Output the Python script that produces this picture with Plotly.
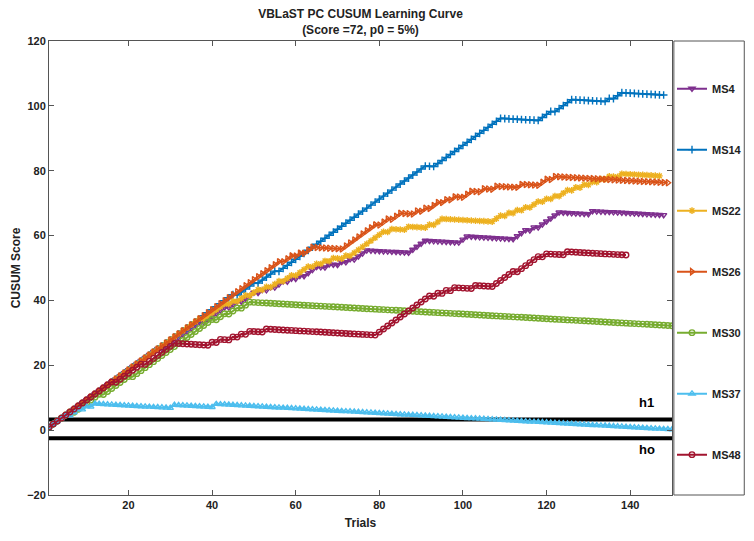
import numpy as np
import plotly.graph_objects as go

# CUSUM reference value (score added on a failure is 1 - s, removed on a success is s)
s = 0.072
h1 = 3.3
h0 = -2.5

names = ['MS4', 'MS14', 'MS22', 'MS26', 'MS30', 'MS37', 'MS48']
colors = ['#7E2F8E', '#0072BD', '#EDB120', '#D95319', '#77AC30', '#4DBEEE', '#A2142F']
symbols = ['triangle-down-open', 'cross-thin-open', 'asterisk-open', 'triangle-right-open',
           'circle-open', 'triangle-up-open', 'circle-open']

# trial outcomes, 1 = score below 72 (line steps up), groups of 10 trials
ms4 = ('1111111111 1111111111 1111111011 1111111011 1110110111 0101011010 1011100100 '
       '1010111000 0000000111 1000000001 1000000000 0011101011 1110000000 1000000000 00000000')
ms14 = ('1111111111 1111111111 1111111111 1111111111 1111101111 0111101111 1111111111 '
        '1111111111 1111111111 1001111111 1111111110 0000000011 1011110000 0000101100 00000000')
ms22 = ('1111111111 1111111111 1111111111 1111111011 1110101101 1010110110 1110101010 '
        '0101111111 1010001000 0101100000 0000000110 1010101101 0101101010 1010100100 0000000')
ms26 = ('1111111111 1111111111 1111111111 1111111111 1111111111 1111110110 1011000000 '
        '0111111110 1101100010 1011010100 1100100100 0001000011 0100000000 0000000000 000000000')
ms30 = ('1111110111 1110111111 0111111111 1111111111 0110110110 ' + '0000000000 ' * 10)
ms37 = ('1111101101 0100000000 0000000000 1000000000 1000000000 ' + '0000000000 ' * 10)
ms48 = ('1111111111 1111110111 1110111111 1000000001 0100101010 0010000000 0000000000 '
        '0000000001 1111111111 1101010100 0010000111 1101111101 0000100000 000000000')

outcomes = [ms4, ms14, ms22, ms26, ms30, ms37, ms48]


def cusum(seq):
    o = np.array([c == '1' for c in seq.replace(' ', '')])
    return np.cumsum(np.where(o, 1 - s, -s))


fig = go.Figure()

# decision limits
for h in [h1, h0]:
    fig.add_trace(go.Scatter(x=[1, 150], y=[h, h], mode='lines', showlegend=False,
                             line=dict(color='black', width=4), hoverinfo='skip'))

for name, col, sym, seq in zip(names, colors, symbols, outcomes):
    y = cusum(seq)
    x = np.arange(1, len(y) + 1)
    fig.add_trace(go.Scatter(x=x, y=y, name=name, legendgroup=name, mode='lines+markers',
                             line=dict(color=col, width=2),
                             marker=dict(symbol=sym, size=5.5, color=col, line=dict(color=col, width=1.4))))

fig.add_annotation(x=144, y=8.6, text='h1', showarrow=False, font=dict(size=13, weight='bold', color='black'))
fig.add_annotation(x=144, y=-5.9, text='ho', showarrow=False, font=dict(size=13, weight='bold', color='black'))

# legend box
fig.add_shape(type='rect', xref='paper', yref='paper', x0=1.003, x1=1.116, y0=0, y1=1,
              line=dict(color='#555', width=1))

axis_style = dict(showline=True, mirror='ticks', linecolor='#555', linewidth=1, ticks='inside',
                  ticklen=5, tickcolor='#555', showgrid=False, zeroline=False, automargin=False,
                  tickfont=dict(family='Liberation Sans', size=11, color='#222', weight='bold'))

fig.update_layout(
    width=754, height=541,
    margin=dict(l=49, r=82, t=41, b=46, autoexpand=False),
    plot_bgcolor='white', paper_bgcolor='white',
    font=dict(family='Liberation Sans', color='#222'),
    title=dict(text='VBLaST PC CUSUM Learning Curve<br>(Score =72, p0 = 5%)',
               x=0.5, xref='paper', xanchor='center', y=0.966, yanchor='top',
               font=dict(size=12, weight='bold', color='#222')),
    xaxis=dict(range=[1, 150], tickvals=[20, 40, 60, 80, 100, 120, 140],
               title=dict(text='Trials', font=dict(size=12, weight='bold'), standoff=8), **axis_style),
    yaxis=dict(range=[-20, 120], dtick=20,
               title=dict(text='CUSUM Score', font=dict(size=12, weight='bold'), standoff=3), **axis_style),
    legend=dict(x=1.0, xanchor='left', y=0.927, yanchor='top', tracegroupgap=42,
                bgcolor='rgba(0,0,0,0)', borderwidth=0, itemwidth=30,
                font=dict(family='Liberation Sans', size=11, weight='bold', color='#222')),
)

# page body has a default margin; drop it so the figure fills the window
fig.write_html('out.html', config={'displayModeBar': False},
               post_script="document.body.style.margin='0';")
